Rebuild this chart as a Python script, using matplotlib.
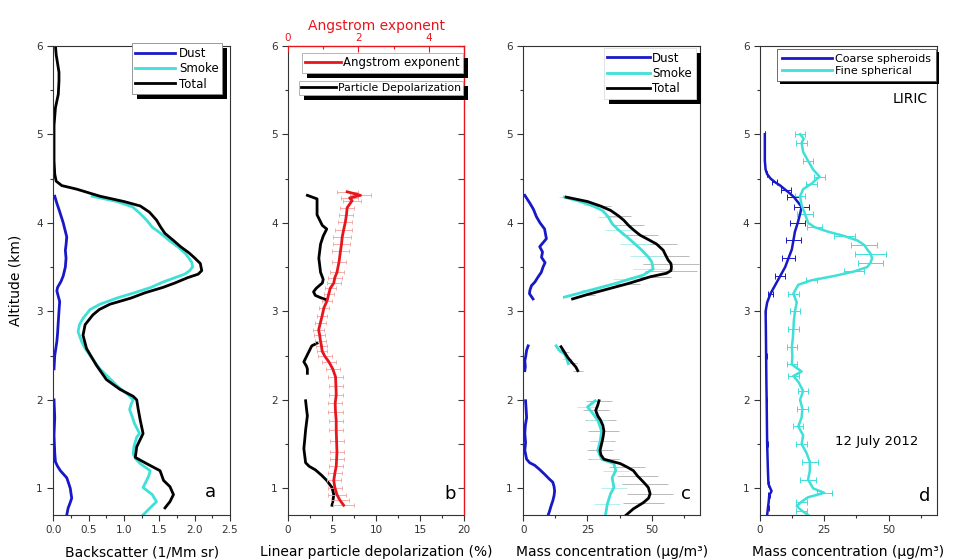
import numpy as np
import matplotlib
matplotlib.use('Agg')
import matplotlib.pyplot as plt
from matplotlib.ticker import MultipleLocator
from matplotlib.patches import Rectangle
from matplotlib.lines import Line2D

plt.rcParams['font.family'] = ['DejaVu Sans']

nan = np.nan
BLUE = '#1818c8'
CYAN = '#3ee0d8'
RED = '#e8161c'

# ---------------- panel a: backscatter (1/Mm sr) ----------------
a_total_alt = [6.00, 5.90, 5.80, 5.70, 5.60, 5.45, 5.30, 5.10, 4.90, 4.70,
               4.55, 4.47, 4.42, 4.38, 4.30, 4.24, 4.19, 4.12, 4.03, 3.95,
               3.88, 3.80, 3.73, 3.66, 3.61, 3.54, 3.46, 3.42, 3.38, 3.32,
               3.27, 3.21, 3.15, 3.08, 3.02, 2.96, 2.85, 2.73, 2.58, 2.39,
               2.23, 2.12, 2.04, 2.00, 1.90, 1.77, 1.62, 1.47, 1.35, 1.28,
               1.20, 1.09, 1.02, 0.93, 0.85, 0.80, 0.78]
a_total = [0.03, 0.04, 0.06, 0.08, 0.08, 0.07, 0.03, 0.01, 0.01, 0.01,
           0.02, 0.04, 0.12, 0.33, 0.66, 1.00, 1.23, 1.36, 1.46, 1.52,
           1.58, 1.70, 1.80, 1.92, 1.99, 2.08, 2.10, 2.05, 1.90, 1.72,
           1.55, 1.30, 1.10, 0.80, 0.65, 0.56, 0.45, 0.42, 0.47, 0.61,
           0.75, 0.94, 1.13, 1.18, 1.20, 1.23, 1.27, 1.18, 1.16, 1.32,
           1.51, 1.56, 1.65, 1.70, 1.65, 1.60, 1.58]
a_smoke_alt = [4.30, 4.24, 4.18, 4.11, 4.03, 3.95, 3.88, 3.80, 3.73, 3.66,
               3.61, 3.55, 3.50, 3.46, 3.42, 3.38, 3.33, 3.27, 3.21, 3.15,
               3.08, 3.02, 2.92, 2.85, 2.77, 2.66, 2.58, 2.50, 2.35, 2.16,
               2.05, 2.00, 1.95, 1.89, 1.80, 1.73, 1.62, 1.58, 1.47, 1.39,
               1.33, 1.28, 1.20, 1.14, 1.09, 1.01, 0.93, 0.85, 0.78, 0.70]
a_smoke = [0.55, 0.90, 1.12, 1.22, 1.32, 1.40, 1.52, 1.64, 1.76, 1.86,
           1.91, 1.96, 1.97, 1.93, 1.86, 1.72, 1.55, 1.38, 1.15, 0.90,
           0.66, 0.52, 0.42, 0.37, 0.35, 0.40, 0.45, 0.52, 0.66, 0.90,
           1.07, 1.13, 1.10, 1.08, 1.12, 1.15, 1.22, 1.18, 1.14, 1.13,
           1.17, 1.23, 1.37, 1.35, 1.32, 1.27, 1.40, 1.46, 1.37, 1.27]
a_dust_alt = [4.30, 4.22, 4.15, 4.00, 3.84, 3.75, 3.69, 3.60, 3.50, 3.40,
              3.34, 3.27, 3.23, 3.11, 3.00, 2.88, 2.75, 2.66, 2.50, 2.35, nan,
              2.00, 1.80, 1.60, 1.40, 1.30, 1.25, 1.20, 1.12, 1.05, 1.00,
              0.89, 0.82, 0.78, 0.70]
a_dust = [0.02, 0.05, 0.08, 0.14, 0.19, 0.18, 0.17, 0.18, 0.17, 0.14,
          0.11, 0.06, 0.05, 0.09, 0.08, 0.07, 0.06, 0.05, 0.02, 0.01, nan,
          0.01, 0.02, 0.01, 0.02, 0.03, 0.06, 0.10, 0.19, 0.22, 0.24,
          0.26, 0.23, 0.21, 0.19]

# ---------------- panel b: depolarization (%) and Angstrom exponent ----------------
b_dep_alt = [4.31, 4.27, 4.18, 4.09, 3.97, 3.93, 3.85, 3.76, 3.68, 3.60,
             3.52, 3.44, 3.36, 3.32, 3.26, 3.22, 3.18, 3.15, 3.13, nan,
             2.64, 2.61, 2.55, 2.49, 2.43, 2.38, 2.35, 2.30, nan,
             1.99, 1.90, 1.82, 1.74, 1.66, 1.55, 1.45, 1.37, 1.29, 1.25,
             1.21, 1.15, 1.09, 1.01, 0.93, 0.86, 0.81]
b_dep = [2.2, 3.3, 3.3, 3.3, 3.9, 4.4, 4.0, 3.7, 3.6, 3.5,
         3.6, 3.7, 4.0, 3.9, 3.2, 2.9, 3.1, 3.8, 4.4, nan,
         3.3, 2.7, 2.4, 2.1, 1.8, 2.1, 2.2, 2.2, nan,
         2.0, 2.1, 2.2, 2.1, 2.0, 1.9, 1.8, 1.9, 2.0, 2.4,
         3.1, 3.8, 4.4, 5.0, 5.2, 5.1, 5.0]
b_ang_alt = [4.35, 4.31, 4.28, 4.25, 4.17, 4.09, 4.01, 3.92, 3.84, 3.76,
             3.68, 3.56, 3.44, 3.38, 3.32, 3.26, 3.20, 3.12, 3.04, 2.95,
             2.87, 2.79, 2.73, 2.67, 2.61, 2.55, 2.49, 2.43, 2.35, 2.26,
             2.16, 2.06, 1.96, 1.86, 1.76, 1.66, 1.53, 1.41, 1.33, 1.25,
             1.17, 1.09, 1.01, 0.93, 0.87, 0.81]
b_ang = [1.68, 2.06, 1.75, 1.82, 1.68, 1.66, 1.63, 1.58, 1.54, 1.52,
         1.49, 1.45, 1.39, 1.33, 1.30, 1.20, 1.16, 1.11, 1.02, 0.97,
         0.92, 0.87, 0.90, 0.92, 0.95, 0.97, 1.05, 1.16, 1.27, 1.35,
         1.36, 1.37, 1.34, 1.35, 1.37, 1.37, 1.38, 1.39, 1.38, 1.37,
         1.33, 1.30, 1.33, 1.39, 1.47, 1.58]
b_ang_err = [0.30, 0.30, 0.25, 0.25, 0.20, 0.20, 0.20, 0.25, 0.25, 0.25,
             0.25, 0.20, 0.20, 0.20, 0.20, 0.15, 0.15, 0.15, 0.15, 0.15,
             0.15, 0.15, 0.15, 0.15, 0.15, 0.15, 0.20, 0.20, 0.20, 0.20,
             0.20, 0.20, 0.20, 0.20, 0.20, 0.20, 0.20, 0.20, 0.20, 0.20,
             0.20, 0.20, 0.20, 0.25, 0.25, 0.30]

# ---------------- panel c: mass concentration (ug/m3) ----------------
c_dust_alt = [4.31, 4.22, 4.15, 4.07, 4.00, 3.93, 3.82, 3.73, 3.67, 3.61,
              3.55, 3.50, 3.44, 3.39, 3.33, 3.29, 3.24, 3.20, 3.14, nan,
              2.61, 2.56, 2.50, 2.44, 2.38, 2.33, nan,
              1.99, 1.90, 1.80, 1.71, 1.62, 1.52, 1.43, 1.33, 1.29, 1.26,
              1.21, 1.16, 1.11, 1.07, 1.02, 0.97, 0.92, 0.86, 0.80, 0.75, 0.69]
c_dust = [0.6, 2.6, 4.0, 5.1, 6.5, 8.3, 9.0, 6.4, 7.5, 7.1,
          8.5, 7.7, 7.0, 5.8, 4.5, 3.2, 2.6, 2.4, 3.8, nan,
          1.9, 1.3, 1.0, 0.6, 0.8, 0.6, nan,
          0.9, 1.1, 1.3, 0.8, 0.6, 0.9, 0.6, 1.3, 2.5, 4.5,
          6.5, 8.3, 10.0, 11.5, 12.0, 12.2, 12.0, 11.5, 10.8, 10.3, 9.6]
c_smoke_alt = [4.29, 4.25, 4.20, 4.14, 4.07, 3.99, 3.92, 3.84, 3.76, 3.69,
               3.62, 3.56, 3.48, 3.41, 3.36, 3.31, 3.24, 3.16, nan,
               2.61, 2.56, 2.52, 2.46, 2.41, nan,
               1.99, 1.92, 1.85, 1.77, 1.65, 1.54, 1.43, 1.33, 1.28, 1.20,
               1.12, 1.01, 0.94, 0.82, 0.71]
c_smoke = [16.0, 21.0, 26.3, 30.8, 33.0, 34.6, 37.0, 40.4, 43.5, 46.2,
           48.5, 50.0, 50.6, 46.8, 41.0, 35.3, 26.3, 16.0, nan,
           12.8, 14.0, 16.0, 17.0, 17.5, nan,
           28.0, 25.0, 27.0, 29.0, 30.5, 30.0, 29.0, 30.5, 35.3, 36.0,
           34.6, 35.3, 34.0, 32.7, 32.1]
c_smoke_err = [2, 3, 3, 4, 4, 5, 5, 6, 6, 7,
               7, 8, 8, 7, 6, 5, 4, 3, nan,
               1, 1, 2, 2, 2, nan,
               4, 4, 4, 4, 4, 4, 4, 4, 5, 5,
               5, 5, 5, 5, 4]
c_total_alt = [4.29, 4.24, 4.19, 4.14, 4.08, 4.03, 3.97, 3.92, 3.86, 3.82,
               3.76, 3.69, 3.63, 3.58, 3.54, 3.50, 3.46, 3.43, 3.39, 3.35,
               3.31, 3.24, 3.19, 3.14, nan,
               2.60, 2.54, 2.48, 2.42, 2.37, 2.33, nan,
               1.99, 1.94, 1.88, 1.82, 1.77, 1.71, 1.65, 1.60, 1.54, 1.48,
               1.43, 1.38, 1.33, 1.28, 1.24, 1.20, 1.14, 1.09, 1.05, 1.01,
               0.94, 0.89, 0.84, 0.77, 0.69]
c_total = [16.7, 25.0, 30.0, 34.0, 37.0, 39.1, 41.0, 42.9, 45.5, 48.1,
           51.9, 54.5, 55.5, 56.4, 57.5, 57.7, 57.5, 55.8, 49.4, 45.0,
           40.4, 31.4, 25.0, 19.2, nan,
           14.7, 16.0, 17.3, 19.0, 20.5, 21.2, nan,
           29.5, 29.0, 28.2, 29.0, 30.1, 31.0, 31.4, 31.2, 30.8, 30.3,
           29.9, 30.2, 31.4, 37.8, 40.5, 42.9, 44.5, 46.2, 47.5, 48.7,
           49.4, 48.8, 46.8, 42.9, 39.7]
c_total_err = [2, 3, 4, 5, 5, 6, 6, 7, 7, 8,
               8, 9, 9, 10, 11, 11, 10, 9, 8, 6,
               5, 4, 3, 2, nan,
               1, 2, 2, 2, 2, 2, nan,
               5, 5, 5, 6, 6, 6, 6, 5, 5, 5,
               5, 5, 6, 6, 7, 8, 8, 9, 9, 10,
               9, 9, 8, 7, 6]

# ---------------- panel d: LIRIC mass concentration (ug/m3) ----------------
d_coarse_alt = [5.00, 4.85, 4.70, 4.60, 4.55, 4.50, 4.46, 4.42, 4.37, 4.33,
                4.29, 4.25, 4.18, 4.10, 4.00, 3.90, 3.80, 3.70, 3.60, 3.50,
                3.40, 3.30, 3.20, 3.10, 3.00, 2.80, 2.50, 2.20, 2.00, 1.75,
                1.50, 1.20, 1.05, 0.97, 0.92, 0.85, 0.78, 0.70]
d_coarse = [1.9, 1.9, 1.9, 2.2, 2.8, 4.1, 5.8, 7.9, 10.0, 11.7,
            13.2, 14.3, 16.2, 15.6, 14.7, 13.6, 13.0, 12.4, 11.1, 9.8,
            7.9, 6.0, 4.1, 2.8, 2.2, 2.3, 2.4, 2.5, 2.6, 2.7,
            2.8, 3.1, 3.3, 4.5, 3.6, 3.4, 3.1, 2.8]
d_coarse_err = [0, 0, 0, 0, 0, 0.5, 1, 1.5, 2, 2,
                2.5, 2.5, 3, 3, 3, 3, 3, 2.5, 2.5, 2.5,
                2, 1.5, 1, 0.5, 0.3, 0.3, 0.3, 0.3, 0.3, 0.3,
                0.3, 0.3, 0.3, 0.5, 0.3, 0.3, 0.3, 0.3]
d_fine_alt = [5.00, 4.95, 4.90, 4.80, 4.70, 4.60, 4.52, 4.48, 4.44, 4.38,
              4.30, 4.20, 4.10, 4.00, 3.95, 3.90, 3.85, 3.80, 3.75, 3.70,
              3.65, 3.60, 3.55, 3.50, 3.45, 3.40, 3.35, 3.30, 3.20, 3.10,
              3.00, 2.90, 2.80, 2.70, 2.60, 2.50, 2.40, 2.32, 2.27, 2.20,
              2.10, 2.00, 1.90, 1.80, 1.70, 1.60, 1.50, 1.40, 1.30, 1.20,
              1.10, 1.00, 0.95, 0.90, 0.85, 0.80, 0.75, 0.70]
d_fine = [15.6, 17.0, 16.2, 16.8, 18.7, 20.7, 23.2, 21.5, 20.0, 16.8,
          15.6, 16.2, 17.5, 18.7, 21.3, 26.4, 32.8, 37.9, 40.5, 41.7,
          43.0, 43.6, 43.0, 41.7, 36.6, 29.0, 20.0, 14.9, 13.0, 14.3,
          13.6, 13.2, 13.0, 12.8, 12.4, 12.6, 12.4, 16.2, 13.0, 15.0,
          16.8, 15.6, 16.5, 16.2, 14.9, 16.8, 16.2, 18.1, 19.4, 19.4,
          18.7, 20.7, 25.0, 18.7, 16.2, 14.3, 16.2, 18.7]
d_fine_err = [2, 2, 2, 2, 2, 2, 2, 2, 2, 2,
              2, 2, 3, 3, 3, 3, 4, 4, 5, 5,
              6, 6, 5, 5, 4, 3, 2, 2, 2, 2,
              2, 2, 2, 2, 2, 2, 2, 2, 2, 2,
              2, 2, 2, 2, 2, 2, 2, 2, 3, 3,
              3, 3, 3, 3, 2, 2, 2, 2]

# ---------------- figure ----------------
fig = plt.figure(figsize=(9.54, 5.6), dpi=100)
B, H = 0.0804, 0.838
ax_a = fig.add_axes([0.0559, B, 0.1852, H])
ax_b = fig.add_axes([0.3019, B, 0.1845, H])
ax_c = fig.add_axes([0.5485, B, 0.1852, H])
ax_d = fig.add_axes([0.7966, B, 0.1855, H])

LW = 2.0
TICKFS = 7.5
LABFS = 10


def style(ax, xmax, xmaj, xmin):
    ax.set_ylim(0.7, 6.0)
    ax.set_xlim(0, xmax)
    ax.yaxis.set_major_locator(MultipleLocator(1))
    ax.yaxis.set_minor_locator(MultipleLocator(0.5))
    ax.xaxis.set_major_locator(MultipleLocator(xmaj))
    ax.xaxis.set_minor_locator(MultipleLocator(xmin))
    ax.tick_params(which='both', direction='out', labelsize=TICKFS,
                   colors='#333333', width=0.8)
    ax.tick_params(which='major', length=4)
    ax.tick_params(which='minor', length=2.5)
    for s in ax.spines.values():
        s.set_linewidth(0.8)
        s.set_color('#333333')


def add_shadow(ax, leg, d=5):
    bb = leg.get_window_extent()
    r = Rectangle((bb.x0 + d, bb.y0 - d), bb.width, bb.height, transform=None,
                  facecolor='black', edgecolor='none', zorder=4.9, clip_on=False)
    ax.add_artist(r)


def legend(ax, colors, labels, anchor, fs, edge, hl, **kw):
    handles = [Line2D([], [], color=c, lw=LW) for c in colors]
    leg = ax.legend(handles=handles, labels=labels, loc='upper right',
                    bbox_to_anchor=anchor, borderaxespad=0, fontsize=fs,
                    fancybox=False, framealpha=1, edgecolor=edge,
                    handlelength=hl, **kw)
    leg.get_frame().set_linewidth(0.6)
    return leg


# panel a
style(ax_a, 2.5, 0.5, 0.25)
ax_a.xaxis.set_major_formatter(lambda v, p: f'{v:.1f}')
ax_a.plot(a_dust, a_dust_alt, color=BLUE, lw=LW)
ax_a.plot(a_smoke, a_smoke_alt, color=CYAN, lw=LW)
ax_a.plot(a_total, a_total_alt, color='black', lw=LW)
ax_a.set_xlabel('Backscatter (1/Mm sr)', fontsize=LABFS, labelpad=7)
ax_a.set_ylabel('Altitude (km)', fontsize=LABFS, labelpad=10)
ax_a.text(0.89, 0.05, 'a', transform=ax_a.transAxes, fontsize=13,
          ha='center', va='center')
leg_a = legend(ax_a, [BLUE, CYAN, 'black'], ['Dust', 'Smoke', 'Total'],
               (0.955, 1.005), 8.5, '#888888', 3.4,
               handletextpad=0.3, labelspacing=0.2, borderpad=0.3)

# panel b
style(ax_b, 20, 5, 2.5)
ax_b.spines['top'].set_visible(False)
ax_b.spines['right'].set_visible(False)
ax_b.plot(b_dep, b_dep_alt, color='black', lw=LW)
ax_b.set_xlabel('Linear particle depolarization (%)', fontsize=LABFS, labelpad=7)
ax_b.text(0.92, 0.045, 'b', transform=ax_b.transAxes, fontsize=13,
          ha='center', va='center')
ax_b2 = ax_b.twiny()
ax_b2.set_xlim(0, 5)
ax_b2.xaxis.set_major_locator(MultipleLocator(2))
ax_b2.xaxis.set_minor_locator(MultipleLocator(1))
ax_b2.tick_params(axis='x', which='both', direction='in', colors=RED,
                  labelsize=TICKFS, width=0.8, pad=2)
ax_b2.tick_params(axis='x', which='major', length=4)
ax_b2.tick_params(axis='x', which='minor', length=2.5)
for k in ('left', 'bottom'):
    ax_b2.spines[k].set_visible(False)
for k in ('top', 'right'):
    ax_b2.spines[k].set_color(RED)
    ax_b2.spines[k].set_linewidth(1.0)
ax_b2.set_xlabel('Angstrom exponent', fontsize=LABFS, color=RED, labelpad=2)
ax_b2.errorbar(b_ang, b_ang_alt, xerr=b_ang_err, fmt='none', ecolor='#f2a0a0',
               elinewidth=0.6, capsize=1.5, capthick=0.6, zorder=1)
ax_b2.plot(b_ang, b_ang_alt, color=RED, lw=LW, zorder=2)
ax_b2.yaxis.set_visible(True)
ax_b2.tick_params(axis='y', which='both', left=False, labelleft=False,
                  right=True, labelright=False, direction='in', length=4,
                  color='#444444', width=0.8)

leg_b1 = legend(ax_b2, [RED], ['Angstrom exponent'], (0.995, 0.985), 8.5,
                '#aaaaaa', 3.0, handletextpad=0.2, borderpad=0.3)
ax_b2.add_artist(leg_b1)
leg_b2 = legend(ax_b2, ['black'], ['Particle Depolarization'], (0.995, 0.925),
                7.8, '#aaaaaa', 3.2, handletextpad=0.2, borderpad=0.2)

# panel c
style(ax_c, 68.8, 25, 12.5)
ax_c.errorbar(c_total, c_total_alt, xerr=c_total_err, fmt='none',
              ecolor='#b0b0b0', elinewidth=0.6, errorevery=2, zorder=1)
ax_c.errorbar(c_smoke, c_smoke_alt, xerr=c_smoke_err, fmt='none',
              ecolor='#a8ecec', elinewidth=0.6, errorevery=2, zorder=1)
ax_c.plot(c_dust, c_dust_alt, color=BLUE, lw=LW)
ax_c.plot(c_smoke, c_smoke_alt, color=CYAN, lw=LW)
ax_c.plot(c_total, c_total_alt, color='black', lw=LW)
ax_c.set_xlabel('Mass concentration (μg/m³)', fontsize=LABFS, labelpad=7)
ax_c.text(0.92, 0.045, 'c', transform=ax_c.transAxes, fontsize=13,
          ha='center', va='center')
leg_c = legend(ax_c, [BLUE, CYAN, 'black'], ['Dust', 'Smoke', 'Total'],
               (0.975, 0.995), 8.5, '#dddddd', 3.6,
               handletextpad=0.2, labelspacing=0.2, borderpad=0.3)

# panel d
style(ax_d, 68.8, 25, 12.5)
ax_d.errorbar(d_fine, d_fine_alt, xerr=d_fine_err, fmt='none', ecolor=CYAN,
              elinewidth=0.7, capsize=2, capthick=0.7, errorevery=2, zorder=1)
ax_d.errorbar(d_coarse, d_coarse_alt, xerr=d_coarse_err, fmt='none',
              ecolor=BLUE, elinewidth=0.7, capsize=2, capthick=0.7,
              errorevery=2, zorder=1)
ax_d.plot(d_coarse, d_coarse_alt, color=BLUE, lw=1.8)
ax_d.plot(d_fine, d_fine_alt, color=CYAN, lw=1.8)
ax_d.set_xlabel('Mass concentration (μg/m³)', fontsize=LABFS, labelpad=7)
ax_d.text(0.93, 0.04, 'd', transform=ax_d.transAxes, fontsize=13,
          ha='center', va='center')
ax_d.text(0.85, 0.887, 'LIRIC', transform=ax_d.transAxes, fontsize=10,
          ha='center', va='center')
ax_d.text(0.66, 0.156, '12 July 2012', transform=ax_d.transAxes, fontsize=9.5,
          ha='center', va='center')
leg_d = legend(ax_d, [BLUE, CYAN], ['Coarse spheroids', 'Fine spherical'],
               (0.995, 0.993), 8, '#555555', 4.5,
               handletextpad=0.3, labelspacing=0.2, borderpad=0.45)

fig.canvas.draw()
add_shadow(ax_a, leg_a)
add_shadow(ax_b2, leg_b1)
add_shadow(ax_b2, leg_b2)
add_shadow(ax_c, leg_c)
add_shadow(ax_d, leg_d, d=3)

fig.savefig('out.png', dpi=100)
